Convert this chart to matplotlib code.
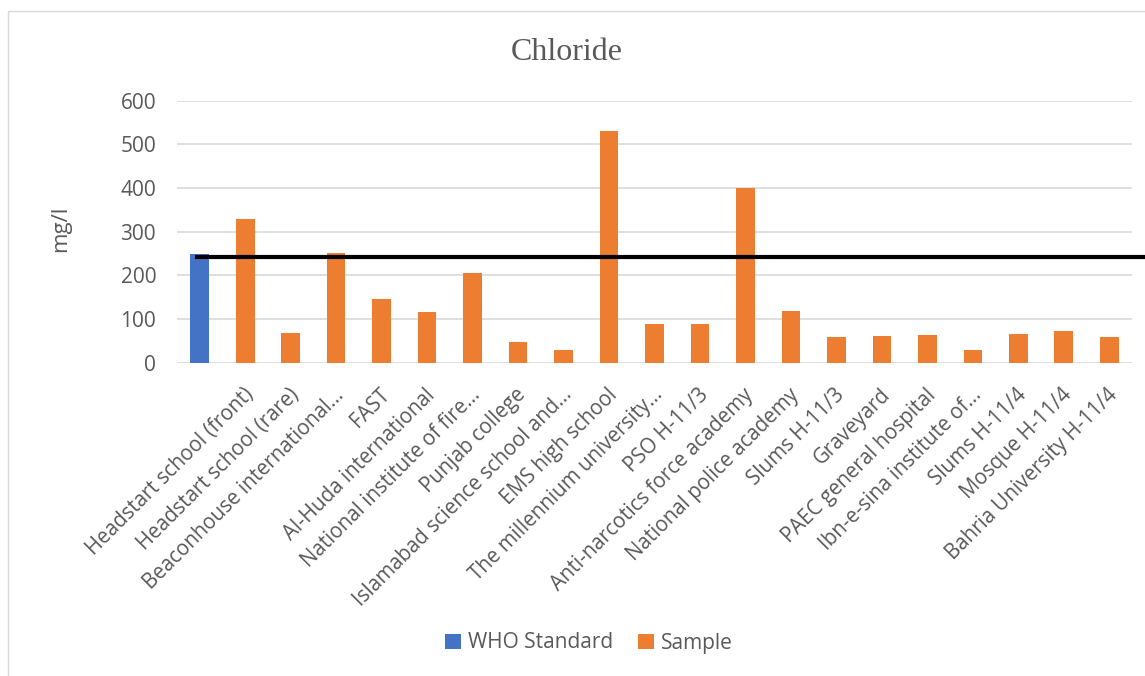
import matplotlib
matplotlib.use("Agg")
import matplotlib.pyplot as plt
import matplotlib.transforms as mtransforms
from matplotlib.patches import Rectangle
import numpy as np

categories = ["", "Headstart school (front)", "Headstart school (rare)",
              "Beaconhouse international...", "FAST", "Al-Huda international",
              "National institute of fire...", "Punjab college",
              "Islamabad science school and...", "EMS high school",
              "The millennium university...", "PSO H-11/3",
              "Anti-narcotics force academy", "National police academy",
              "Slums H-11/3", "Graveyard", "PAEC general hospital",
              "Ibn-e-sina institute of...", "Slums H-11/4", "Mosque H-11/4",
              "Bahria University H-11/4"]
who_standard = [250] + [None] * 20
sample = [None, 330, 67, 251, 146, 115, 205, 47, 28, 531, 88, 88, 400, 118,
          59, 62, 64, 29, 66, 73, 59]
who_line = 243
yticks = [0, 100, 200, 300, 400, 500, 600]

TXT = "#595959"
BLUE = "#4472C4"
ORANGE = "#ED7D31"
GRID = "#D9D9D9"
FONT = "Open Sans"

W, H = 1145, 676
fig = plt.figure(figsize=(W / 100, H / 100), dpi=100)
fig.patch.set_facecolor("white")

# chart border
fig.patches.append(Rectangle((8 / W, -0.05), 1.2, 1 - 11 / H + 0.05,
                             transform=fig.transFigure, fill=False,
                             edgecolor=GRID, linewidth=1.0))

ax = fig.add_axes([177 / W, 1 - 362.7 / H, (1132 - 177) / W, (362.7 - 100.7) / H])
x = np.arange(len(categories))

wx = [i for i, v in enumerate(who_standard) if v is not None]
ax.bar(wx, [who_standard[i] for i in wx], width=0.41, color=BLUE,
       label="WHO Standard", zorder=3)
sx = [i for i, v in enumerate(sample) if v is not None]
ax.bar(sx, [sample[i] for i in sx], width=0.41, color=ORANGE,
       label="Sample", zorder=3)

ax.plot([-0.1, 21.0], [who_line, who_line], color="black", linewidth=3.0,
        solid_capstyle="butt", clip_on=False, zorder=4)

ax.set_xlim(-0.5, len(categories) - 0.5)
ax.set_ylim(0, 600)
ax.set_yticks(yticks)
ax.set_yticklabels([str(v) for v in yticks], fontsize=15, color=TXT,
                   family=FONT)
ax.yaxis.grid(True, color=GRID, linewidth=1.2, zorder=0)
ax.set_axisbelow(True)
for s in ax.spines.values():
    s.set_visible(False)
ax.tick_params(axis="both", length=0)
ax.tick_params(axis="y", pad=15)

ax.set_xticks(x)
ax.set_xticklabels(categories, rotation=45, ha="right", va="center",
                   rotation_mode="anchor", fontsize=14.8, color=TXT, family=FONT)
ax.tick_params(axis="x", pad=21)
offset = mtransforms.ScaledTranslation(5 / 100, 0, fig.dpi_scale_trans)
for lbl in ax.get_xticklabels():
    lbl.set_transform(lbl.get_transform() + offset)

fig.text(61 / W, 1 - 229 / H, "mg/l", rotation=90, ha="center", va="center",
         fontsize=16, color=TXT, family=FONT)

fig.text(567 / W, 1 - 52 / H, "Chloride", ha="center", va="center",
         fontsize=23, color=TXT, family="Liberation Serif")

leg = fig.legend(loc="center", bbox_to_anchor=(589 / W, 1 - 643 / H), ncol=2,
                 frameon=False, prop={"family": FONT, "size": 15},
                 handlelength=0.75, handleheight=0.75, handletextpad=0.35,
                 columnspacing=1.2, borderpad=0)
for t in leg.get_texts():
    t.set_color(TXT)

fig.savefig("out.png", dpi=100, facecolor="white")
